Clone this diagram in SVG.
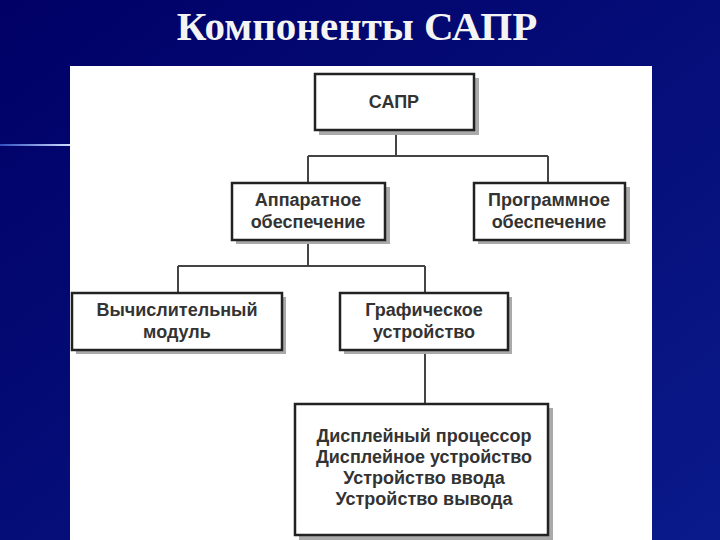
<svg xmlns="http://www.w3.org/2000/svg" width="720" height="540" viewBox="0 0 720 540">
<defs>
<linearGradient id="bg" x1="0" y1="0" x2="1" y2="1">
<stop offset="0" stop-color="#000066"/><stop offset="1" stop-color="#0a1a8a"/>
</linearGradient>
<linearGradient id="ln" x1="0" y1="0" x2="1" y2="0">
<stop offset="0" stop-color="#3050c0"/><stop offset="1" stop-color="#d0e0ff"/>
</linearGradient>
</defs>
<style>
.box{fill:#fff;stroke:#222;stroke-width:2.5}
.sh{fill:#aaa}
.t{font-family:"Liberation Sans",Arial,sans-serif;font-size:18px;font-weight:bold;fill:#333;text-anchor:middle}
.c{stroke:#444;stroke-width:2;fill:none}
</style>
<rect width="720" height="540" fill="url(#bg)"/>
<rect x="0" y="144" width="70" height="2" fill="url(#ln)"/>
<text x="357" y="40" font-family="'Liberation Serif','Times New Roman',serif" font-size="41" font-weight="bold" fill="#f4f4f4" text-anchor="middle">Компоненты САПР</text>
<rect x="70" y="66" width="582" height="474" fill="#fff"/>
<g id="connectors">
<path class="c" d="M396 130V156M308 156H548M308 156V183M548 156V183"/>
<path class="c" d="M308 240V266M178 266H425M178 266V293M425 266V293"/>
<path class="c" d="M425 350V404"/>
</g>
<g id="sapr"><rect class="sh" x="319" y="78" width="160" height="57"/><rect class="box" x="315" y="74" width="159" height="56"/><text class="t" x="394" y="108">САПР</text></g>
<g id="hw"><rect class="sh" x="236" y="187" width="154" height="57"/><rect class="box" x="232" y="183" width="153" height="57"/><text class="t" x="308" y="206">Аппаратное</text><text class="t" x="308" y="228">обеспечение</text></g>
<g id="sw"><rect class="sh" x="478" y="187" width="152" height="57"/><rect class="box" x="474" y="183" width="151" height="57"/><text class="t" x="549" y="206">Программное</text><text class="t" x="549" y="228">обеспечение</text></g>
<g id="calc"><rect class="sh" x="76" y="297" width="210" height="57"/><rect class="box" x="72" y="293" width="210" height="57"/><text class="t" x="177" y="316">Вычислительный</text><text class="t" x="177" y="338">модуль</text></g>
<g id="graph"><rect class="sh" x="344" y="297" width="168" height="57"/><rect class="box" x="340" y="293" width="168" height="57"/><text class="t" x="424" y="316">Графическое</text><text class="t" x="424" y="338">устройство</text></g>
<g id="dev"><rect class="sh" x="299" y="408" width="254" height="132"/><rect class="box" x="295" y="404" width="253" height="131"/>
<text class="t" x="424" y="442">Дисплейный процессор</text><text class="t" x="424" y="463">Дисплейное устройство</text><text class="t" x="424" y="484">Устройство ввода</text><text class="t" x="424" y="505">Устройство вывода</text></g>
</svg>
